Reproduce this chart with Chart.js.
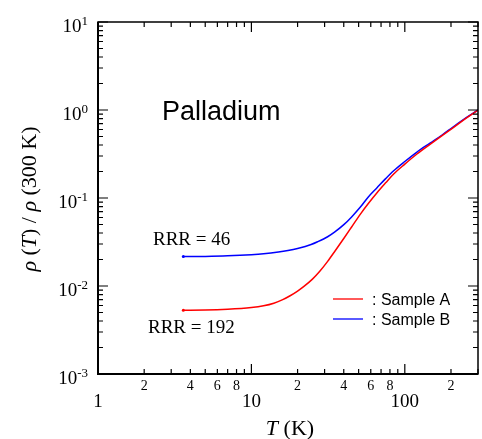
<!DOCTYPE html>
<html>
<head>
<meta charset="utf-8">
<script src="https://cdn.jsdelivr.net/npm/chart.js@4/dist/chart.umd.min.js"></script>
<style>
  html, body { margin: 0; padding: 0; background: #fff; }
  #chart { display: block; }
</style>
</head>
<body>
<canvas id="chart" width="482" height="439"></canvas>
<script>
// --- data ---
var tempsA = [3.6, 5, 7, 10, 12, 14, 16, 18, 20, 22, 25, 28, 31.4, 35, 40.2, 45, 51.5, 58, 65.9, 75, 84.6, 100, 120, 146, 175, 206, 250, 300];
var rhoA = [0.0053, 0.00532, 0.00543, 0.00569, 0.00596, 0.00638, 0.0070, 0.0078, 0.00875, 0.00989, 0.01197, 0.01479, 0.01905, 0.02483, 0.0351, 0.0468, 0.0661, 0.0871, 0.1148, 0.1486, 0.1875, 0.2427, 0.316, 0.407, 0.511, 0.627, 0.804, 1.0];
var tempsB = [3.6, 5, 7, 10, 12, 15, 17.3, 20, 24.5, 27, 31.4, 35, 40.2, 45, 51.5, 58, 65.9, 75, 84.6, 100, 120, 146, 175, 206, 250, 300];
var rhoB = [0.0216, 0.0217, 0.022, 0.02265, 0.0232, 0.0243, 0.0253, 0.0267, 0.0296, 0.0318, 0.0363, 0.0412, 0.0501, 0.061, 0.0794, 0.1035, 0.131, 0.166, 0.204, 0.26, 0.333, 0.42, 0.52, 0.64, 0.813, 1.0];
var seriesNames = [': Sample A', ': Sample B'];
var seriesColors = ['#ff0000', '#0000ff'];
var yExponents = [-3, -2, -1, 0, 1];
var xMajorTicks = [1, 10, 100];
var xMajorLabels = ['1', '10', '100'];
var xMinorLabels = [2, 4, 6, 8, 20, 40, 60, 80, 200];

var serif = '"Liberation Serif", "Times New Roman", serif';
var sans = '"Liberation Sans", Arial, sans-serif';

function toPoints(xs, ys) {
    return xs.map(function (x, i) { return { x: x, y: ys[i] }; });
}

// draws frame, ticks, labels and annotations
var decorPlugin = {
    id: 'decor',
    afterDraw: function (chart) {
        var ctx = chart.ctx;
        var a = chart.chartArea;
        var xs = chart.scales.x, ys = chart.scales.y;
        ctx.save();
        ctx.strokeStyle = '#000';
        ctx.fillStyle = '#000';

        // frame
        ctx.lineWidth = 1.5;
        ctx.strokeRect(a.left, a.top, a.right - a.left, a.bottom - a.top);
        ctx.lineWidth = 2;
        ctx.beginPath();
        ctx.moveTo(a.left, a.top); ctx.lineTo(a.left, a.bottom); ctx.lineTo(a.right, a.bottom);
        ctx.stroke();

        // y ticks
        ctx.lineWidth = 1.2;
        ctx.beginPath();
        yExponents.forEach(function (e) {
            var v = Math.pow(10, e);
            var py = ys.getPixelForValue(v);
            ctx.moveTo(a.left, py); ctx.lineTo(a.left + 10, py);
            ctx.moveTo(a.right, py); ctx.lineTo(a.right - 10, py);
            if (e < 1) {
                for (var m = 2; m <= 9; m++) {
                    var pm = ys.getPixelForValue(m * v);
                    ctx.moveTo(a.left, pm); ctx.lineTo(a.left + 5, pm);
                    ctx.moveTo(a.right, pm); ctx.lineTo(a.right - 5, pm);
                }
            }
        });
        // x ticks
        xMajorTicks.forEach(function (v) {
            var px = xs.getPixelForValue(v);
            ctx.moveTo(px, a.bottom); ctx.lineTo(px, a.bottom - 10);
            ctx.moveTo(px, a.top); ctx.lineTo(px, a.top + 10);
            for (var m = 2; m <= 9; m++) {
                if (m * v > 300) break;
                var pm = xs.getPixelForValue(m * v);
                ctx.moveTo(pm, a.bottom); ctx.lineTo(pm, a.bottom - 5);
                ctx.moveTo(pm, a.top); ctx.lineTo(pm, a.top + 5);
            }
        });
        ctx.stroke();

        // y tick labels 10^n
        yExponents.forEach(function (e) {
            var py = ys.getPixelForValue(Math.pow(10, e));
            var exp = String(e);
            ctx.font = '13px ' + serif;
            var ew = ctx.measureText(exp).width;
            ctx.textAlign = 'left';
            ctx.textBaseline = 'alphabetic';
            ctx.fillText(exp, 88 - ew, py + 3);
            ctx.font = '19px ' + serif;
            ctx.textAlign = 'right';
            ctx.fillText('10', 88 - ew, py + 10);
        });

        // x tick labels
        ctx.textAlign = 'center';
        ctx.textBaseline = 'alphabetic';
        ctx.font = '14px ' + serif;
        xMinorLabels.forEach(function (v) {
            ctx.fillText(String(v).charAt(0), xs.getPixelForValue(v), 390);
        });
        ctx.font = '19px ' + serif;
        xMajorTicks.forEach(function (v, i) {
            ctx.fillText(xMajorLabels[i], xs.getPixelForValue(v), 407);
        });

        // x title: T (K)
        drawPieces(ctx, [['T', true], [' (K)', false]], 290, 435, '22px ');

        // y title, rotated
        ctx.save();
        ctx.translate(36, 199);
        ctx.rotate(-Math.PI / 2);
        drawPieces(ctx, [['\u03c1', true], [' (', false], ['T', true], [') / ', false], ['\u03c1', true], [' (300 K)', false]], 0, 0, '22px ');
        ctx.restore();

        // annotations
        ctx.textAlign = 'left';
        ctx.font = '27px ' + sans;
        ctx.fillText('Palladium', 162, 120);
        ctx.font = '19px ' + serif;
        ctx.fillText('RRR = 46', 153, 245);
        ctx.fillText('RRR = 192', 148, 333);

        // legend
        ctx.font = '16px ' + sans;
        ctx.lineWidth = 1.3;
        [299, 319].forEach(function (ly, i) {
            ctx.strokeStyle = seriesColors[i];
            ctx.beginPath();
            ctx.moveTo(333, ly); ctx.lineTo(363, ly);
            ctx.stroke();
            ctx.fillText(seriesNames[i], 372, ly + 6);
        });
        ctx.restore();
    }
};

// draws mixed italic/upright pieces centred on cx
function drawPieces(ctx, pieces, cx, baseY, size) {
    var total = 0;
    pieces.forEach(function (p) {
        ctx.font = (p[1] ? 'italic ' : '') + size + serif;
        p.w = ctx.measureText(p[0]).width;
        total += p.w;
    });
    var x = cx - total / 2;
    ctx.textAlign = 'left';
    ctx.textBaseline = 'alphabetic';
    pieces.forEach(function (p) {
        ctx.font = (p[1] ? 'italic ' : '') + size + serif;
        ctx.fillText(p[0], x, baseY);
        x += p.w;
    });
}

function startDot(c) { return c.dataIndex === 0 ? 1.5 : 0; }

new Chart(document.getElementById('chart').getContext('2d'), {
    type: 'line',
    data: {
        datasets: [
            { label: 'Sample A', data: toPoints(tempsA, rhoA), borderColor: seriesColors[0], backgroundColor: seriesColors[0], borderWidth: 1.5, pointRadius: startDot, pointBorderWidth: 0, cubicInterpolationMode: 'monotone', fill: false },
            { label: 'Sample B', data: toPoints(tempsB, rhoB), borderColor: seriesColors[1], backgroundColor: seriesColors[1], borderWidth: 1.5, pointRadius: startDot, pointBorderWidth: 0, cubicInterpolationMode: 'monotone', fill: false }
        ]
    },
    options: {
        responsive: false,
        animation: false,
        devicePixelRatio: 1,
        layout: { padding: { left: 98, right: 0, top: 22, bottom: 65 } },
        plugins: { legend: { display: false }, tooltip: { enabled: false } },
        scales: {
            x: { type: 'logarithmic', min: 1, max: 300, display: false },
            y: { type: 'logarithmic', min: 0.001, max: 10, display: false }
        }
    },
    plugins: [decorPlugin]
});
</script>
</body>
</html>
